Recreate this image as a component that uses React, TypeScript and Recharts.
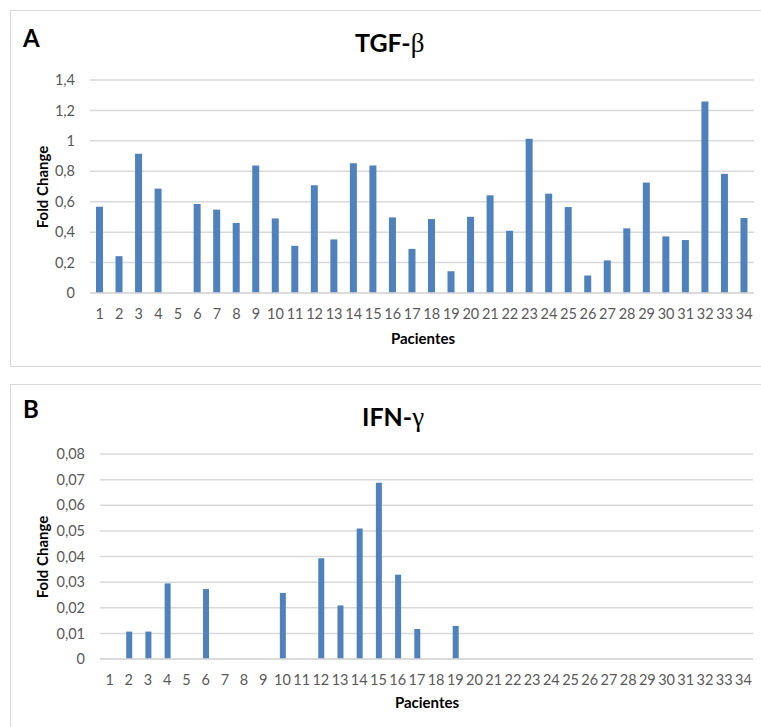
import React from 'react';
import { BarChart, Bar, XAxis, YAxis, CartesianGrid } from 'recharts';

const patients = Array.from({ length: 34 }, (_, i) => String(i + 1));

const tgfValues = [
  0.567, 0.242, 0.915, 0.686, 0, 0.585, 0.548, 0.46, 0.838, 0.49,
  0.31, 0.708, 0.352, 0.853, 0.838, 0.497, 0.29, 0.486, 0.143, 0.501,
  0.642, 0.409, 1.014, 0.653, 0.565, 0.115, 0.214, 0.425, 0.726, 0.372,
  0.348, 1.258, 0.783, 0.493,
];

const ifnValues = [
  0, 0.0107, 0.0107, 0.0295, 0, 0.0273, 0, 0, 0, 0.0258,
  0, 0.0393, 0.0209, 0.0509, 0.0688, 0.0329, 0.0117, 0, 0.0129, 0,
  0, 0, 0, 0, 0, 0, 0, 0, 0, 0,
  0, 0, 0, 0,
];

const tgfTicks = [0, 0.2, 0.4, 0.6, 0.8, 1, 1.2, 1.4];
const ifnTicks = [0, 0.01, 0.02, 0.03, 0.04, 0.05, 0.06, 0.07, 0.08];

const tgfData = patients.map((name, i) => ({ name, value: tgfValues[i] }));
const ifnData = patients.map((name, i) => ({ name, value: ifnValues[i] }));

const FONT = 'Lato, "Open Sans", sans-serif';
const BAR = '#4f81bd';
const GRID = '#d9d9d9';
const TICK = '#595959';

const fmt = (v: number) => String(v).replace('.', ',');

export default function App() {
  const tick = { fontSize: 14.5, fill: TICK, fontFamily: FONT };
  return (
    <div style={{ position: 'absolute', left: 0, top: 0, width: 761, height: 727, background: '#fff', overflow: 'hidden' }}>
      <div style={{ position: 'absolute', left: 10, top: 10, width: 780, height: 357, border: `1.5px solid ${GRID}`, boxSizing: 'border-box' }} />
      <div style={{ position: 'absolute', left: 10, top: 384, width: 780, height: 400, border: `1.5px solid ${GRID}`, boxSizing: 'border-box' }} />

      <div style={{ position: 'absolute', left: 0, top: 0 }}>
        <BarChart width={761} height={370} data={tgfData} margin={{ top: 80, right: 7, bottom: 47, left: 0 }}>
          <CartesianGrid vertical={false} stroke={GRID} strokeWidth={1.5} />
          <XAxis dataKey="name" interval={0} tickLine={false} axisLine={{ stroke: GRID, strokeWidth: 1.5 }} tick={tick} tickMargin={10} height={30} />
          <YAxis width={90} domain={[0, 1.4]} ticks={tgfTicks} tickFormatter={fmt} axisLine={false} tickLine={false} tick={tick} tickMargin={9} />
          <Bar dataKey="value" fill={BAR} barSize={7} isAnimationActive={false} />
        </BarChart>
      </div>

      <div style={{ position: 'absolute', left: 0, top: 370 }}>
        <BarChart width={761} height={357} data={ifnData} margin={{ top: 84, right: 8, bottom: 38, left: 0 }}>
          <CartesianGrid vertical={false} stroke={GRID} strokeWidth={1.5} />
          <XAxis dataKey="name" interval={0} tickLine={false} axisLine={{ stroke: GRID, strokeWidth: 1.5 }} tick={tick} tickMargin={10} height={30} />
          <YAxis width={100} domain={[0, 0.08]} ticks={ifnTicks} tickFormatter={fmt} axisLine={false} tickLine={false} tick={tick} tickMargin={9} />
          <Bar dataKey="value" fill={BAR} barSize={6} isAnimationActive={false} />
        </BarChart>
      </div>

      <svg width={761} height={727} style={{ position: 'absolute', left: 0, top: 0, pointerEvents: 'none' }}>
        <text x={23} y={47} fontFamily={FONT} fontWeight={700} fontSize={24} fill="#000">A</text>
        <text x={23} y={418} fontFamily={FONT} fontWeight={700} fontSize={24} fill="#000">B</text>

        <text x={355} y={52} fontFamily={FONT} fontWeight={700} fontSize={25} fill="#000">
          TGF-<tspan fontFamily='"Liberation Serif", serif' fontWeight={400} fontSize={27}>β</tspan>
        </text>
        <text x={362} y={426} fontFamily={FONT} fontWeight={700} fontSize={25} fill="#000">
          IFN-<tspan fontFamily='"Liberation Serif", serif' fontWeight={400} fontSize={27}>γ</tspan>
        </text>

        <text x={47.5} y={187} transform="rotate(-90 47.5 187)" textAnchor="middle" fontFamily={FONT} fontWeight={700} fontSize={15} fill="#000">Fold Change</text>
        <text x={47.5} y={557} transform="rotate(-90 47.5 557)" textAnchor="middle" fontFamily={FONT} fontWeight={700} fontSize={15} fill="#000">Fold Change</text>

        <text x={423} y={344} textAnchor="middle" fontFamily={FONT} fontWeight={700} fontSize={15} fill="#000">Pacientes</text>
        <text x={427} y={708} textAnchor="middle" fontFamily={FONT} fontWeight={700} fontSize={15} fill="#000">Pacientes</text>
      </svg>
    </div>
  );
}
